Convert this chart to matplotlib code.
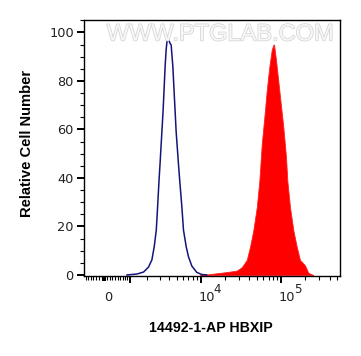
import matplotlib
matplotlib.use("Agg")
import matplotlib.pyplot as plt
import matplotlib.patheffects as pe
from matplotlib.ticker import FixedLocator, NullFormatter, MultipleLocator
from matplotlib.patches import Rectangle

# ---- data (fluorescence intensity vs relative cell number) ----
ctrl_x = [882, 1368, 1746, 2066, 2316, 2500, 2668, 2781, 2908, 3018, 3302, 3508, 3617,
          3762, 4087, 4210, 4430, 4606, 4884, 5220, 5424, 5779, 6058, 6553, 7010, 7722,
          8890, 10287, 11913]
ctrl_y = [0, 0.4, 1.2, 3.2, 6.2, 11.7, 18.5, 28, 39, 47, 68, 85.8, 92.7,
          98, 95.4, 94.8, 85.8, 75, 59, 46, 39, 28, 18.5, 11.7, 7.5, 3.7,
          1.1, 0.2, 0]

sample_x = [9830, 11913, 15863, 21082, 28118, 32449, 37440, 41150, 45220, 49900, 53730,
            57530, 63120, 66290, 71400, 76440, 80030, 81660, 86470, 95120, 106600, 115100,
            119500, 129000, 141900, 156300, 171700, 198100, 217700, 251000]
sample_y = [0, 0.2, 0.7, 1.2, 1.8, 3.2, 6.2, 11.7, 18.5, 28, 39,
            54, 68, 76, 85.8, 92.7, 94.8, 95, 88.6, 76, 61, 48.7,
            39, 28, 18.5, 11.7, 6.2, 4, 0.9, 0]

x_major = [1e3, 1e4, 1e5]
x_minor = ([-700, -600, -500, -400, -300, -200, -100, 100, 200, 300, 400, 500, 600, 700, 800, 900]
           + [m * 1e3 for m in range(2, 10)] + [m * 1e4 for m in range(2, 10)]
           + [m * 1e5 for m in range(2, 6)])
x_labels = [(0, "0", None), (1e4, "10", "4"), (1e5, "10", "5")]
y_ticks = [0, 20, 40, 60, 80, 100]

xlabel = "14492-1-AP HBXIP"
ylabel = "Relative Cell Number"
watermark = "WWW.PTGLAB.COM"

# ---- figure ----
fig = plt.figure(figsize=(3.61, 3.56), dpi=100)
ax = fig.add_axes([84 / 361, 1 - 275.7 / 356, 256 / 361, 255.7 / 356])

ax.set_xscale("asinh", linear_width=1270)
ax.set_xlim(-780, 5.4e5)
ax.set_ylim(-0.3, 105.1)

ax.fill_between(sample_x, sample_y, 0, color="#ff0000", lw=0.6, edgecolor="#ff2020", zorder=2)
ax.plot(ctrl_x, ctrl_y, color="#14147a", lw=1.1, zorder=3)

# ticks
ax.xaxis.set_major_locator(FixedLocator(x_major))
ax.xaxis.set_minor_locator(FixedLocator(x_minor))
ax.xaxis.set_major_formatter(NullFormatter())
ax.xaxis.set_minor_formatter(NullFormatter())
ax.yaxis.set_major_locator(FixedLocator(y_ticks))
ax.yaxis.set_minor_locator(MultipleLocator(5))

ax.tick_params(axis="both", which="major", direction="out", length=4.8, width=1.4,
               color="black")
ax.tick_params(axis="both", which="minor", direction="out", length=2.6, width=0.8,
               color="black")
ax.tick_params(axis="y", which="major", labelsize=9.3, pad=2.5, labelcolor="#222222")
for lbl in ax.get_yticklabels():
    lbl.set_family("DejaVu Sans")

for sp in ax.spines.values():
    sp.set_linewidth(1.0)

# block at zero on x axis
ax.add_patch(Rectangle((-75, -0.022), 150, 0.022, transform=ax.get_xaxis_transform(),
                       color="black", clip_on=False, lw=0))

# x tick labels (manual, logicle-style)
for xv, base, sup in x_labels:
    dx = 4 if sup is None else 6
    ax.annotate(base, xy=(xv, 0), xycoords=("data", "axes fraction"),
                xytext=(dx, -22), textcoords="offset pixels", ha="center", va="center",
                fontsize=9.3, family="DejaVu Sans", color="#222222")
    if sup is not None:
        ax.annotate(sup, xy=(xv, 0), xycoords=("data", "axes fraction"),
                    xytext=(16.5, -14), textcoords="offset pixels", ha="center",
                    va="center", fontsize=8.6, family="DejaVu Sans", color="#222222")

# axis labels
fig.text(210.7 / 361, 1 - 327.7 / 356, xlabel, ha="center", va="center",
         fontsize=10.2, fontweight="bold", family="Liberation Sans")
fig.text(27.5 / 361, 1 - 143.5 / 356, ylabel, ha="center", va="center", rotation=90,
         fontsize=10.6, fontweight="bold", family="Liberation Sans")

# watermark
fig.text(220 / 361, 1 - 34.5 / 356, watermark, ha="center", va="center",
         fontsize=17, family="Liberation Sans", color="#f7f7f7", zorder=5,
         path_effects=[pe.withStroke(linewidth=1.0, foreground="#d2d2d2")])

fig.savefig("out.png", dpi=100)
